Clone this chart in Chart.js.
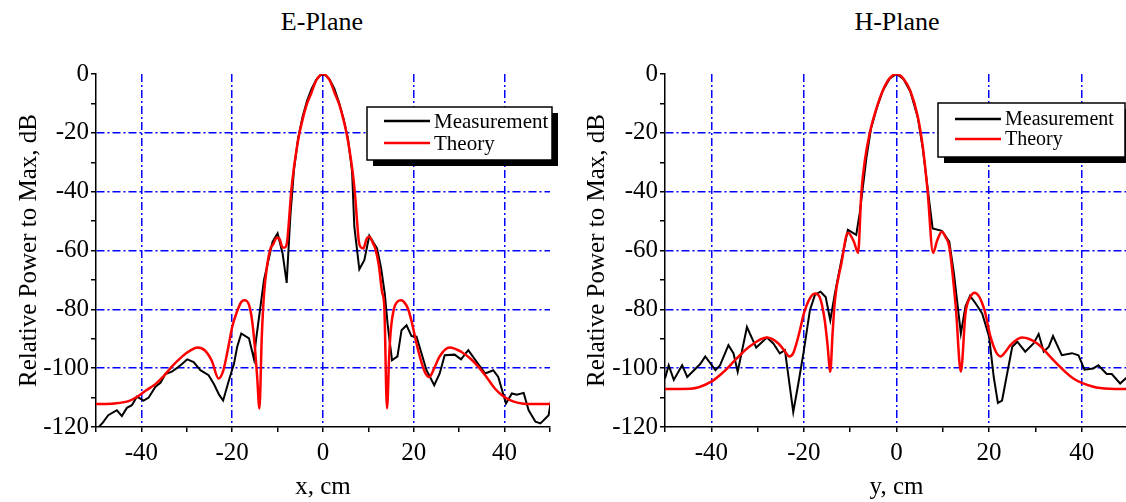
<!DOCTYPE html>
<html>
<head>
<meta charset="utf-8">
<script src="https://cdn.jsdelivr.net/npm/chart.js@4.4.1/dist/chart.umd.min.js"></script>
<style>
  html, body { margin: 0; padding: 0; background: #fff; overflow: hidden; width: 1126px; height: 502px; }
  #wrap { position: relative; width: 1126px; height: 502px; overflow: hidden; }
  canvas { position: absolute; top: 0; }
  .ttl { position: absolute; top: 7px; width: 200px; text-align: center; font-family: "Liberation Serif", serif; font-size: 26px; line-height: 30px; color: #000; }
</style>
</head>
<body>
<div id="wrap">
  <div class="ttl" style="left:222px">E-Plane</div>
  <div class="ttl" style="left:797px">H-Plane</div>
  <canvas id="eChart" width="575" height="502" style="left:0"></canvas>
  <canvas id="hChart" width="570" height="502" style="left:570px"></canvas>
</div>
<script>
// E-plane, measured
var eMeasX = [-50,-48.5,-47.3,-45.4,-44.3,-43.2,-42.1,-41,-39.5,-38.4,-36.9,-35.8,-34.7,-33.3,-32.2,-31,-29.9,-28.5,-27,-25.2,-24,-22.9,-22,-20.7,-19.6,-18.9,-18,-16.3,-15.2,-14.8,-13,-11.1,-10,-8.9,-8,-7.2,-6.4,-5.5,-4.5,-3.5,-2.5,-1.5,-0.5,0.5,1.5,2.5,3.5,4.5,5.5,6.4,6.9,8,9.1,10.2,11.9,12.8,13.6,14.3,15.2,16.4,17.3,18.4,19.5,20.6,22.8,24.5,25.7,26.8,29,30.4,32,33.8,35.7,37.5,38.6,40.3,41.6,42.7,44.2,45.3,46.8,47.9,49.7,50.3]
var eMeasY = [-121,-118.5,-116,-114.3,-116.3,-113.5,-112.6,-109.7,-111,-110,-106.3,-105,-102,-101.2,-100,-98.5,-97,-97.9,-100.7,-102.4,-105.5,-109,-111,-104,-98.4,-92.7,-88.2,-89.9,-97,-91,-70,-57,-54.2,-61,-71,-48.5,-32.7,-22,-14.5,-9,-5,-2,-0.3,-0.3,-2,-5,-9.5,-15,-22,-33,-51.9,-66.4,-63.3,-55,-59.3,-66,-74.6,-86,-97.3,-96,-87.1,-85.4,-89.1,-89.3,-100.7,-105.8,-101.8,-95.6,-95.4,-97,-93.9,-97.8,-101.8,-100.7,-103,-112,-108.6,-109,-108.4,-114.3,-118.2,-118.8,-116,-110.3]
// E-plane, theory
var eTheoX = [-50,-46,-43,-41,-39,-37,-35,-33,-31,-29,-27.7,-26,-24.5,-23,-22,-21,-20,-19,-18,-17.3,-16.3,-15.6,-15,-14.5,-14,-13.5,-13,-12.3,-11.5,-11,-10.2,-9.6,-8.9,-8.4,-7.9,-7.5,-7,-6.5,-6,-5.2,-4.5,-3.5,-2.6,-1.5,-0.5,0,0.5,1.5,2.6,3.5,4.5,5.2,6,6.5,7,7.5,7.9,8.4,8.9,9.6,10.2,11,11.5,12.3,13,13.5,14.1,14.6,15,15.6,16.3,17.3,18,18.7,19.5,20.6,21.5,22.5,23.4,24.5,25.7,27.9,30.5,32.5,34.2,36,37.9,39.5,41.2,43,45.3,50]
var eTheoY = [-112.2,-112,-111.3,-109.8,-107.6,-105.5,-102.5,-99,-96,-93.8,-93,-94,-97.5,-103.5,-101,-94,-86,-81,-77.5,-76.9,-78.5,-84,-93,-103,-113.7,-90,-75,-65,-59,-58,-55.7,-56,-59,-59,-57,-50,-40,-33,-27.5,-20.2,-15.5,-10,-6.6,-2.2,-0.3,0,-0.3,-2.2,-6.6,-10,-15.5,-20.2,-27.5,-33,-40,-50,-57,-59,-59.3,-56,-55.3,-57.5,-59.3,-65,-74,-79,-113.7,-95,-86,-80,-77.5,-76.9,-77.8,-79.7,-84,-91.6,-97,-101.5,-103,-100,-96,-93,-94.5,-96.8,-99.5,-103,-107,-109.3,-110.9,-111.8,-112.2,-112.2]
// H-plane, measured
var hMeasX = [-50,-49.2,-48.1,-46.3,-45.2,-42.4,-41.3,-39.1,-38.1,-36.3,-35.2,-34.3,-32.3,-30.3,-28,-26.6,-25.2,-24.1,-22.3,-21.2,-20.1,-18.7,-17.6,-16.4,-15.3,-14.3,-13.3,-11.9,-10.5,-8.7,-7.95,-6.5,-5.5,-4.3,-3,-1.5,0,1.5,3,4.6,5.7,6.8,7.8,9.8,11.4,12.4,13.9,14.9,15.9,17.1,18.5,20,21,21.9,22.8,23.9,25,26.1,27.8,29.6,30.7,31.8,32.9,33.8,35.7,37.9,39.3,40.6,42.5,43.6,45.4,46.5,48.3,49.5,50.3]
var hMeasY = [-103.5,-99,-104,-99,-103,-98.6,-96,-100.7,-99,-92.2,-95,-101.2,-86,-93,-89.6,-91.6,-95,-93.9,-114.9,-105.2,-94.9,-80.3,-75,-74,-75.8,-83.7,-74.6,-63.3,-53,-54.7,-47.4,-28.5,-18.5,-11.8,-5.8,-1.6,0,-1.7,-6,-14.8,-25.5,-39.8,-52.5,-53.3,-57,-67.8,-88.2,-79,-75.4,-78,-81.4,-89.3,-103,-111.8,-111,-101.8,-92.7,-91,-94.4,-91.6,-88.4,-94.4,-92.7,-89.1,-95.6,-94.9,-95.6,-100.5,-100.1,-99,-102,-102,-105.2,-103.5,-103]
// H-plane, theory
var hTheoX = [-50,-44.5,-40,-37.3,-34.5,-31.6,-28,-25.5,-24,-23.2,-22.3,-21,-20,-18.8,-17.6,-16.6,-15.5,-14.9,-14.3,-13.8,-13.3,-11.9,-10.5,-9.2,-8.3,-7.6,-6.8,-5.8,-4.3,-2.9,-1.5,0,1.5,3,4.6,5.7,6.7,7.9,8.8,9.8,10.6,11.4,12.8,13.9,14.9,15.9,16.9,18.9,20.3,21.5,22.5,23.5,24.6,27.1,30.4,33.9,38.2,42.5,46,50]
var hTheoY = [-107.1,-107,-104.6,-101.2,-96.7,-92.5,-89.6,-91.6,-94.5,-96,-94.9,-88,-81.4,-76.5,-74.6,-75.8,-83.7,-92,-101.2,-88,-76.9,-64.4,-54,-57,-60.8,-40.6,-29,-20.2,-11.5,-5.4,-1.5,0,-1.6,-5.8,-14.5,-25,-39.5,-60.8,-56.5,-53.6,-55.5,-58.7,-79.1,-101.2,-81.4,-76,-74.4,-79.7,-89.3,-94.5,-96,-94.5,-92.2,-89.6,-91.6,-97.3,-103.5,-106.3,-107,-107.1]

var serif = '"Liberation Serif", "Times New Roman", serif'

function pts(xs, ys){
  return xs.map(function(x, i){ return {x: x, y: ys[i]} })
}

// boxed legend with drop shadow, drawn inside the plot
var boxLegend = {
  id: 'boxLegend',
  afterDatasetsDraw: function(chart, args, opts){
    var c = chart.ctx
    var x = opts.x, y = opts.y, w = opts.w, h = opts.h
    c.save()
    c.fillStyle = '#000'
    c.fillRect(x + 6, y + 6, w, h)
    c.fillStyle = '#fff'
    c.fillRect(x, y, w, h)
    c.strokeStyle = '#000'
    c.lineWidth = 1.5
    c.strokeRect(x, y, w, h)
    var items = [['Measurement', '#000'], ['Theory', '#ff0000']]
    c.font = opts.fontSize + 'px ' + serif
    c.textBaseline = 'middle'
    items.forEach(function(it, i){
      var ly = y + opts.first + i * opts.gap
      c.strokeStyle = it[1]
      c.lineWidth = 2.5
      c.beginPath()
      c.moveTo(x + 17, ly)
      c.lineTo(x + 63, ly)
      c.stroke()
      c.fillStyle = '#000'
      c.fillText(it[0], x + 67, ly + 1)
    })
    c.restore()
  }
}

function makeChart(id, meas, theo, xTitle, yWidth, padRight, yPad, legend){
  var major = function(v, lo, hi){ return v % 20 === 0 && v !== lo && v !== hi }
  return new Chart(document.getElementById(id), {
    type: 'line',
    data: {
      datasets: [
        { label: 'Measurement', data: meas, borderColor: '#000', borderWidth: 2, pointRadius: 0, tension: 0, order: 2 },
        { label: 'Theory', data: theo, borderColor: '#ff0000', borderWidth: 2.5, pointRadius: 0, cubicInterpolationMode: 'monotone', order: 1 }
      ]
    },
    options: {
      responsive: false,
      devicePixelRatio: 1,
      animation: false,
      layout: { padding: { top: 74, right: padRight, bottom: 0, left: 0 } },
      plugins: {
        legend: { display: false },
        tooltip: { enabled: false },
        boxLegend: legend
      },
      scales: {
        x: {
          type: 'linear', min: -50, max: 50,
          afterFit: function(s){ s.height = 75 },
          ticks: {
            stepSize: 10, autoSkip: false, maxRotation: 0, padding: 6,
            color: '#000', font: { family: serif, size: 25 },
            callback: function(v){ return v % 20 === 0 && Math.abs(v) !== 50 ? String(v) : '' }
          },
          grid: {
            color: function(ctx){ return major(ctx.tick.value, -50, 50) ? '#0000ff' : 'rgba(0,0,0,0)' },
            tickColor: '#000', tickLength: 5, lineWidth: 1.5
          },
          border: { color: '#000', width: 1.5, dash: [8, 3, 2, 3] },
          title: { display: true, text: xTitle, color: '#000', font: { family: serif, size: 25 }, padding: { top: 0, bottom: 0 } }
        },
        y: {
          min: -120, max: 0,
          afterFit: function(s){ s.width = yWidth },
          ticks: {
            stepSize: 10, autoSkip: false, padding: 2,
            color: '#000', font: { family: serif, size: 25 },
            callback: function(v){ return v % 20 === 0 ? String(v) : '' }
          },
          grid: {
            color: function(ctx){ return major(ctx.tick.value, -120, 0) ? '#0000ff' : 'rgba(0,0,0,0)' },
            tickColor: '#000', tickLength: 5, lineWidth: 1.5
          },
          border: { color: '#000', width: 1.5, dash: [8, 3, 2, 3] },
          title: { display: true, text: 'Relative Power to Max, dB', color: '#000', font: { family: serif, size: 25 }, padding: { top: yPad, bottom: 0 } }
        }
      }
    },
    plugins: [boxLegend]
  })
}

makeChart('eChart', pts(eMeasX, eMeasY), pts(eTheoX, eTheoY), 'x, cm', 96, 25, 14,
  { x: 367, y: 107, w: 185, h: 53, first: 14, gap: 22, fontSize: 21 })
makeChart('hChart', pts(hMeasX, hMeasY), pts(hTheoX, hTheoY), 'y, cm', 95, 12, 12,
  { x: 368, y: 103, w: 187, h: 54, first: 16, gap: 20, fontSize: 20 })
</script>
</body>
</html>
